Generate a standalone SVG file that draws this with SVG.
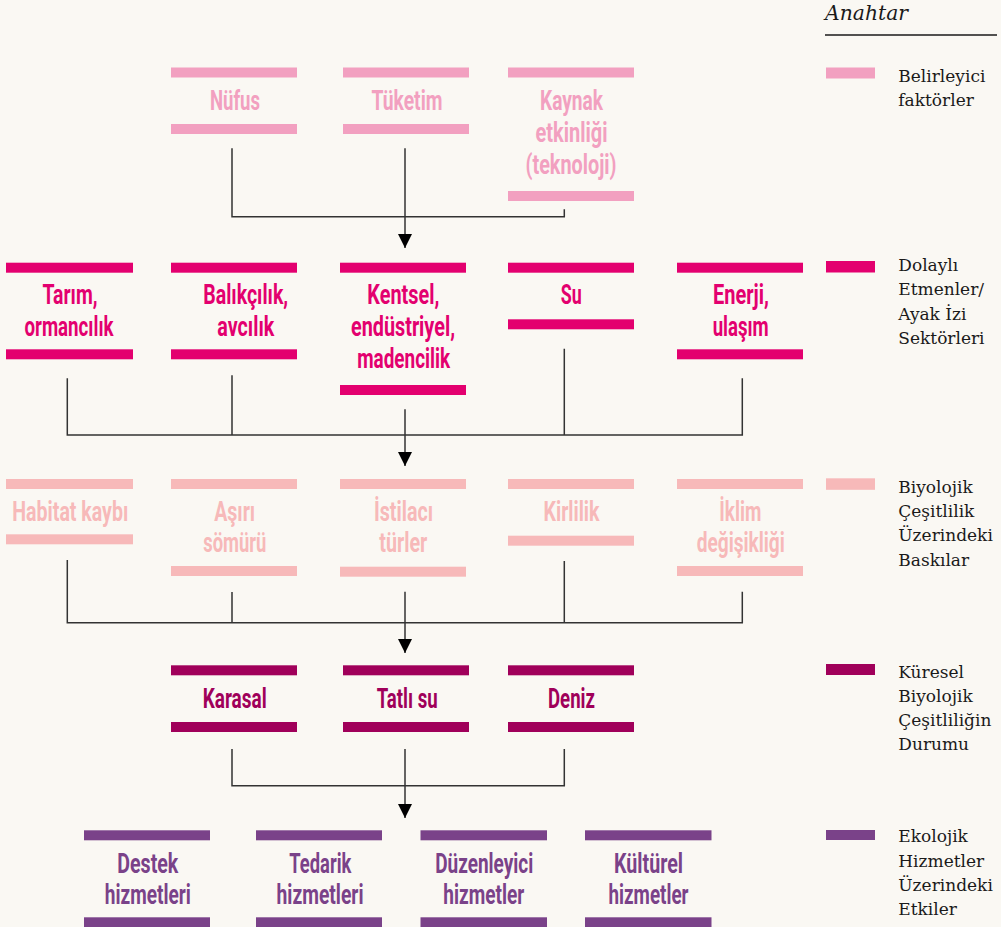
<svg xmlns="http://www.w3.org/2000/svg" width="1001" height="927" viewBox="0 0 1001 927">
<style>
.t{font-family:"Roboto","Liberation Sans",sans-serif;font-weight:700;font-size:28px;text-anchor:middle}
.c1{fill:#f2a0c0}.c2{fill:#e3006f}.c3{fill:#f7b9b9}.c4{fill:#a0005a}.c5{fill:#7a4289}
.lg{font-family:"DejaVu Serif","Liberation Serif",serif;font-size:17px;fill:#1a1a1a}
.ttl{font-family:"DejaVu Serif","Liberation Serif",serif;font-size:20.5px;font-style:italic;fill:#1a1a1a}
.conn{fill:none;stroke:#333;stroke-width:1.5}
</style>
<defs>
<marker id="arr" viewBox="0 0 14 14" refX="14" refY="7" markerWidth="14" markerHeight="14" markerUnits="userSpaceOnUse" orient="auto">
<path d="M0,0 L14,7 L0,14 z" fill="#000"/>
</marker>
</defs>
<rect x="0" y="0" width="1001" height="927" fill="#faf8f3"/>

<g id="connectors">
<path class="conn" d="M232,148.3 V216.7 H564.3 V209.3"/>
<path class="conn" d="M405,148.3 V248" marker-end="url(#arr)"/>
<path class="conn" d="M67.3,378.3 V435 H742.3 V378.3 M232,375.3 V435 M564.3,348.7 V435"/>
<path class="conn" d="M405,409.3 V466" marker-end="url(#arr)"/>
<path class="conn" d="M67.3,560 V622.7 H742.3 V591.7 M232,592 V622.7 M564.3,561 V622.7"/>
<path class="conn" d="M405,591.7 V653" marker-end="url(#arr)"/>
<path class="conn" d="M232,749 V785.7 H564.3 V749"/>
<path class="conn" d="M405,749 V818" marker-end="url(#arr)"/>
</g>

<!-- Row 1 -->
<g id="nufus" class="c1"><rect x="171" y="67.5" width="126" height="10"/><rect x="171" y="124" width="126" height="10"/>
<text class="t" x="235" y="110" textLength="50" lengthAdjust="spacingAndGlyphs">Nüfus</text></g>
<g id="tuketim" class="c1"><rect x="343" y="67.5" width="126" height="10"/><rect x="343" y="124" width="126" height="10"/>
<text class="t" x="407" y="110" textLength="71" lengthAdjust="spacingAndGlyphs">Tüketim</text></g>
<g id="kaynak" class="c1"><rect x="508" y="67.5" width="126" height="10"/><rect x="508" y="191" width="126" height="10"/>
<text class="t" x="571.5" y="110" textLength="63" lengthAdjust="spacingAndGlyphs">Kaynak</text>
<text class="t" x="571.5" y="142" textLength="72" lengthAdjust="spacingAndGlyphs">etkinliği</text>
<text class="t" x="571" y="174" textLength="91" lengthAdjust="spacingAndGlyphs">(teknoloji)</text></g>

<!-- Row 2 -->
<g id="tarim" class="c2"><rect x="6" y="262.7" width="127" height="10"/><rect x="6" y="349.3" width="127" height="10"/>
<text class="t" x="70" y="304" textLength="55" lengthAdjust="spacingAndGlyphs">Tarım,</text>
<text class="t" x="69" y="336" textLength="89" lengthAdjust="spacingAndGlyphs">ormancılık</text></g>
<g id="balikcilik" class="c2"><rect x="171" y="262.7" width="126" height="10"/><rect x="171" y="349.3" width="126" height="10"/>
<text class="t" x="245.7" y="304" textLength="85" lengthAdjust="spacingAndGlyphs">Balıkçılık,</text>
<text class="t" x="245.8" y="336" textLength="57" lengthAdjust="spacingAndGlyphs">avcılık</text></g>
<g id="kentsel" class="c2"><rect x="340" y="262.7" width="126" height="10"/><rect x="340" y="385" width="126" height="10"/>
<text class="t" x="403.3" y="304" textLength="72" lengthAdjust="spacingAndGlyphs">Kentsel,</text>
<text class="t" x="403" y="336" textLength="104" lengthAdjust="spacingAndGlyphs">endüstriyel,</text>
<text class="t" x="403.7" y="368" textLength="93" lengthAdjust="spacingAndGlyphs">madencilik</text></g>
<g id="su" class="c2"><rect x="508" y="262.7" width="126" height="10"/><rect x="508" y="319.3" width="126" height="10"/>
<text class="t" x="571.3" y="304" textLength="21" lengthAdjust="spacingAndGlyphs">Su</text></g>
<g id="enerji" class="c2"><rect x="677" y="262.7" width="126" height="10"/><rect x="677" y="349.3" width="126" height="10"/>
<text class="t" x="741" y="304" textLength="56" lengthAdjust="spacingAndGlyphs">Enerji,</text>
<text class="t" x="740.7" y="336" textLength="56" lengthAdjust="spacingAndGlyphs">ulaşım</text></g>

<!-- Row 3 -->
<g id="habitat" class="c3"><rect x="6" y="479" width="127" height="10"/><rect x="6" y="534.3" width="127" height="10"/>
<text class="t" x="70.3" y="521" textLength="116" lengthAdjust="spacingAndGlyphs">Habitat kaybı</text></g>
<g id="asiri" class="c3"><rect x="171" y="479" width="126" height="10"/><rect x="171" y="566" width="126" height="10"/>
<text class="t" x="234.7" y="521" textLength="41" lengthAdjust="spacingAndGlyphs">Aşırı</text>
<text class="t" x="234.8" y="552" textLength="63" lengthAdjust="spacingAndGlyphs">sömürü</text></g>
<g id="istilaci" class="c3"><rect x="340" y="479" width="126" height="10"/><rect x="340" y="566.7" width="126" height="10"/>
<text class="t" x="403.5" y="521" textLength="59" lengthAdjust="spacingAndGlyphs">İstilacı</text>
<text class="t" x="403.3" y="552" textLength="48" lengthAdjust="spacingAndGlyphs">türler</text></g>
<g id="kirlilik" class="c3"><rect x="508" y="479" width="126" height="10"/><rect x="508" y="535.7" width="126" height="10"/>
<text class="t" x="571.5" y="521" textLength="56" lengthAdjust="spacingAndGlyphs">Kirlilik</text></g>
<g id="iklim" class="c3"><rect x="677" y="479" width="126" height="10"/><rect x="677" y="566" width="126" height="10"/>
<text class="t" x="740.3" y="521" textLength="42" lengthAdjust="spacingAndGlyphs">İklim</text>
<text class="t" x="740.8" y="552" textLength="88" lengthAdjust="spacingAndGlyphs">değişikliği</text></g>

<!-- Row 4 -->
<g id="karasal" class="c4"><rect x="171" y="665.3" width="126" height="10"/><rect x="171" y="722" width="126" height="10"/>
<text class="t" x="234.7" y="708" textLength="64" lengthAdjust="spacingAndGlyphs">Karasal</text></g>
<g id="tatlisu" class="c4"><rect x="343" y="665.3" width="126" height="10"/><rect x="343" y="722" width="126" height="10"/>
<text class="t" x="407.2" y="708" textLength="61" lengthAdjust="spacingAndGlyphs">Tatlı su</text></g>
<g id="deniz" class="c4"><rect x="508" y="665.3" width="126" height="10"/><rect x="508" y="722" width="126" height="10"/>
<text class="t" x="571.5" y="708" textLength="47" lengthAdjust="spacingAndGlyphs">Deniz</text></g>

<!-- Row 5 -->
<g id="destek" class="c5"><rect x="84" y="830.3" width="126" height="10"/><rect x="84" y="917.3" width="126" height="10"/>
<text class="t" x="147.8" y="873" textLength="61" lengthAdjust="spacingAndGlyphs">Destek</text>
<text class="t" x="147.8" y="904" textLength="86" lengthAdjust="spacingAndGlyphs">hizmetleri</text></g>
<g id="tedarik" class="c5"><rect x="256" y="830.3" width="126" height="10"/><rect x="256" y="917.3" width="126" height="10"/>
<text class="t" x="320.3" y="873" textLength="62" lengthAdjust="spacingAndGlyphs">Tedarik</text>
<text class="t" x="320" y="904" textLength="87" lengthAdjust="spacingAndGlyphs">hizmetleri</text></g>
<g id="duzenleyici" class="c5"><rect x="420.5" y="830.3" width="126.5" height="10"/><rect x="420.5" y="917.3" width="126.5" height="10"/>
<text class="t" x="484.2" y="873" textLength="98" lengthAdjust="spacingAndGlyphs">Düzenleyici</text>
<text class="t" x="483.8" y="904" textLength="81" lengthAdjust="spacingAndGlyphs">hizmetler</text></g>
<g id="kulturel" class="c5"><rect x="585" y="830.3" width="126.5" height="10"/><rect x="585" y="917.3" width="126.5" height="10"/>
<text class="t" x="648.5" y="873" textLength="69" lengthAdjust="spacingAndGlyphs">Kültürel</text>
<text class="t" x="648.5" y="904" textLength="80" lengthAdjust="spacingAndGlyphs">hizmetler</text></g>

<!-- Legend -->
<g id="legend">
<text class="ttl" x="825" y="20" textLength="83" lengthAdjust="spacingAndGlyphs">Anahtar</text>
<line x1="825" y1="35" x2="997" y2="35" stroke="#1a1a1a" stroke-width="1.3"/>
<rect class="c1" x="826" y="67.5" width="49" height="11"/>
<text class="lg" x="898.3" y="81.7">Belirleyici</text>
<text class="lg" x="898.3" y="106">faktörler</text>
<rect class="c2" x="826" y="261" width="49" height="11.5"/>
<text class="lg" x="898.3" y="270.7">Dolaylı</text>
<text class="lg" x="898.3" y="295.2">Etmenler/</text>
<text class="lg" x="898.3" y="319.5">Ayak İzi</text>
<text class="lg" x="898.3" y="343.5">Sektörleri</text>
<rect class="c3" x="826" y="478.3" width="49" height="11.5"/>
<text class="lg" x="898.3" y="492.7">Biyolojik</text>
<text class="lg" x="898.3" y="517">Çeşitlilik</text>
<text class="lg" x="898.3" y="541.3">Üzerindeki</text>
<text class="lg" x="898.3" y="565.5">Baskılar</text>
<rect class="c4" x="826" y="664" width="49" height="11"/>
<text class="lg" x="898.3" y="677.5">Küresel</text>
<text class="lg" x="898.3" y="701.7">Biyolojik</text>
<text class="lg" x="898.3" y="726">Çeşitliliğin</text>
<text class="lg" x="898.3" y="750">Durumu</text>
<rect class="c5" x="826" y="830" width="49" height="10"/>
<text class="lg" x="898.3" y="842.3">Ekolojik</text>
<text class="lg" x="898.3" y="866.7">Hizmetler</text>
<text class="lg" x="898.3" y="891">Üzerindeki</text>
<text class="lg" x="898.3" y="915">Etkiler</text>
</g>
</svg>
